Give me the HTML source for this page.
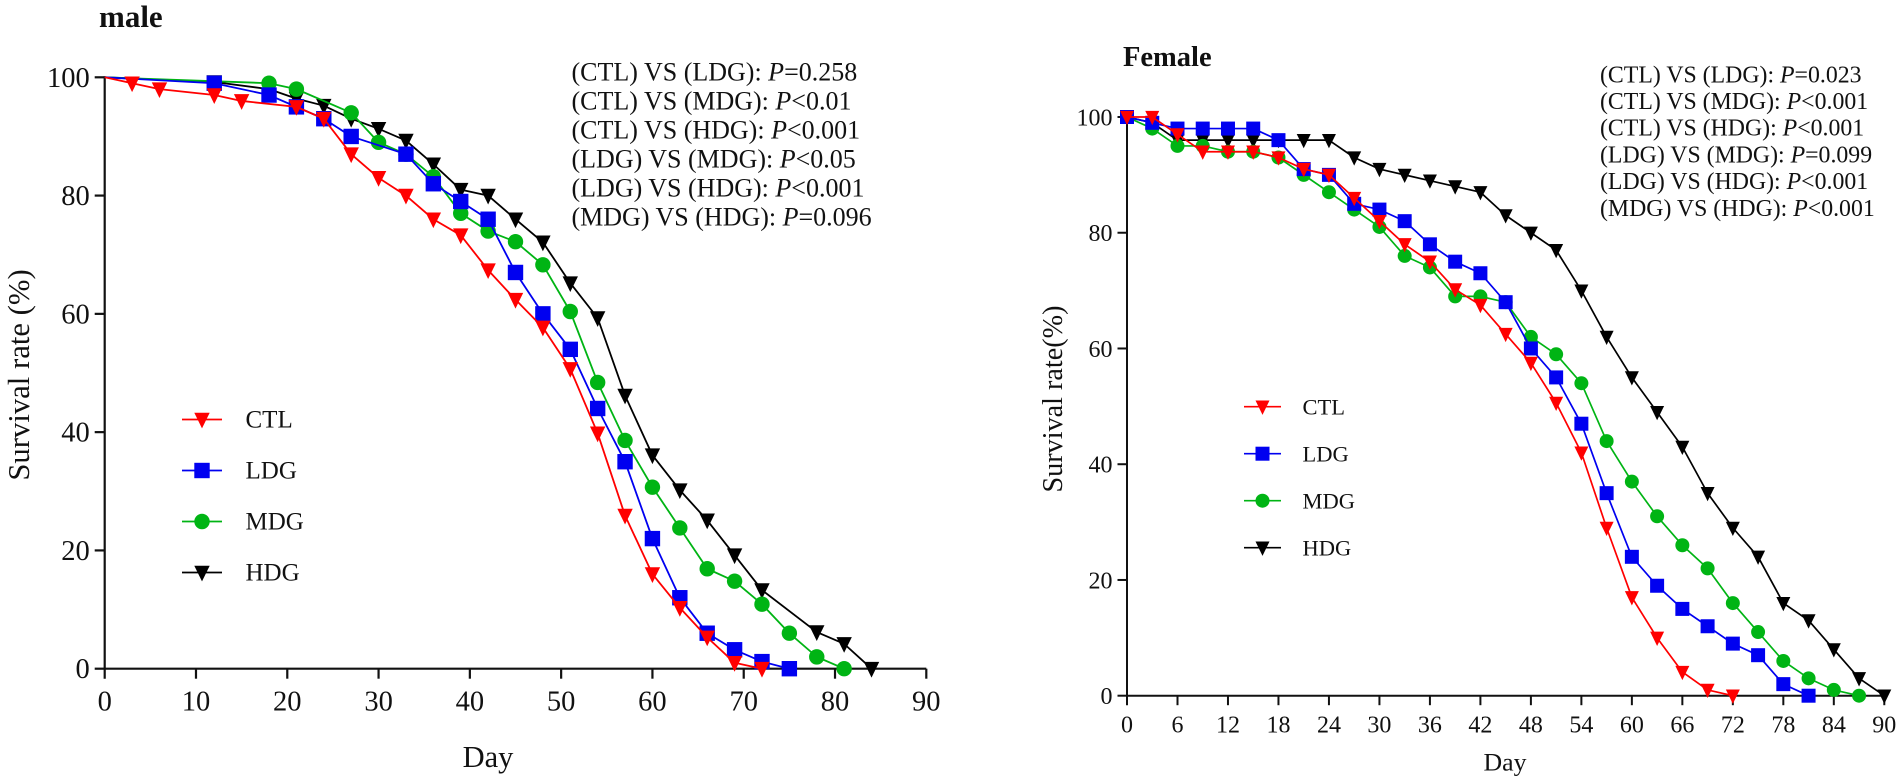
<!DOCTYPE html>
<html lang="en">
<head>
<meta charset="utf-8">
<title>Survival rate by day, male and female</title>
<style>
html,body{margin:0;padding:0;background:#fff;}
svg{display:block;font-family:"Liberation Serif",serif;fill:#111;}
</style>
</head>
<body>
<svg id="figure" xmlns="http://www.w3.org/2000/svg" width="1902" height="783" viewBox="0 0 1902 783">
  <rect width="1902" height="783" fill="#fff"/>

  <text x="99" y="27" font-size="31" font-weight="bold">male</text>
  <text transform="translate(29,375) rotate(-90)" text-anchor="middle" font-size="30.7">Survival rate (%)</text>
  <text x="488" y="767" text-anchor="middle" font-size="30.5">Day</text>
  <g font-size="26">
    <text x="571.5" y="80.5">(CTL) VS (LDG): <tspan font-style="italic">P</tspan>=0.258</text>
    <text x="571.5" y="109.5">(CTL) VS (MDG): <tspan font-style="italic">P</tspan>&lt;0.01</text>
    <text x="571.5" y="138.5">(CTL) VS (HDG): <tspan font-style="italic">P</tspan>&lt;0.001</text>
    <text x="571.5" y="167.5">(LDG) VS (MDG): <tspan font-style="italic">P</tspan>&lt;0.05</text>
    <text x="571.5" y="196.5">(LDG) VS (HDG): <tspan font-style="italic">P</tspan>&lt;0.001</text>
    <text x="571.5" y="225.5">(MDG) VS (HDG): <tspan font-style="italic">P</tspan>=0.096</text>
  </g>

  <text x="1123" y="66" font-size="28.5" font-weight="bold">Female</text>
  <text transform="translate(1062,399) rotate(-90)" text-anchor="middle" font-size="28.2">Survival rate(%)</text>
  <text x="1505" y="770.5" text-anchor="middle" font-size="25.8">Day</text>
  <g font-size="23.8">
    <text x="1600" y="82.3">(CTL) VS (LDG): <tspan font-style="italic">P</tspan>=0.023</text>
    <text x="1600" y="109">(CTL) VS (MDG): <tspan font-style="italic">P</tspan>&lt;0.001</text>
    <text x="1600" y="135.7">(CTL) VS (HDG): <tspan font-style="italic">P</tspan>&lt;0.001</text>
    <text x="1600" y="162.4">(LDG) VS (MDG): <tspan font-style="italic">P</tspan>=0.099</text>
    <text x="1600" y="189.1">(LDG) VS (HDG): <tspan font-style="italic">P</tspan>&lt;0.001</text>
    <text x="1600" y="215.8">(MDG) VS (HDG): <tspan font-style="italic">P</tspan>&lt;0.001</text>
  </g>
</svg>

<script>
// ---------- chart data ----------
const groupNames = ['CTL', 'LDG', 'MDG', 'HDG'];

const maleXTicks = [0, 10, 20, 30, 40, 50, 60, 70, 80, 90];
const maleYTicks = [0, 20, 40, 60, 80, 100];
const femaleXTicks = [0, 6, 12, 18, 24, 30, 36, 42, 48, 54, 60, 66, 72, 78, 84, 90];
const femaleYTicks = [0, 20, 40, 60, 80, 100];

const maleCtlDays = [0, 3, 6, 12, 15, 21, 24, 27, 30, 33, 36, 39, 42, 45, 48, 51, 54, 57, 60, 63, 66, 69, 72];
const maleCtlValues = [100, 99, 98, 97, 96, 95, 93, 87, 83, 80, 76, 73.3, 67.4, 62.4, 57.7, 50.7, 39.8, 25.9, 16, 10.3, 5.3, 1, 0];
const maleLdgDays = [0, 12, 18, 21, 24, 27, 33, 36, 39, 42, 45, 48, 51, 54, 57, 60, 63, 66, 69, 72, 75];
const maleLdgValues = [100, 99, 97, 95, 93, 90, 87, 82, 79, 76, 67, 60, 54, 44, 35, 22, 12, 6, 3.2, 1.2, 0];
const maleMdgDays = [0, 18, 21, 27, 30, 33, 36, 39, 42, 45, 48, 51, 54, 57, 60, 63, 66, 69, 72, 75, 78, 81];
const maleMdgValues = [100, 99, 98, 94, 89, 87, 83.2, 77, 74, 72.2, 68.3, 60.4, 48.4, 38.6, 30.7, 23.8, 16.9, 14.8, 10.9, 6, 2, 0];
const maleHdgDays = [0, 12, 18, 21, 24, 27, 30, 33, 36, 39, 42, 45, 48, 51, 54, 57, 60, 63, 66, 69, 72, 78, 81, 84];
const maleHdgValues = [100, 99.2, 98, 96.4, 95.2, 93, 91.3, 89.3, 85.3, 81, 80, 76, 72.1, 65.2, 59.3, 46.2, 36.1, 30.2, 25.1, 19.2, 13.3, 6.2, 4.2, 0];

const femaleCtlDays = [0, 3, 6, 9, 12, 15, 18, 21, 24, 27, 30, 33, 36, 39, 42, 45, 48, 51, 54, 57, 60, 63, 66, 69, 72];
const femaleCtlValues = [100, 100, 97, 94, 94, 94, 93, 91, 90, 86, 82, 78, 75, 70.2, 67.5, 62.5, 57.5, 50.6, 42, 29, 17, 10, 4.1, 1, 0];
const femaleLdgDays = [0, 3, 6, 9, 12, 15, 18, 21, 24, 27, 30, 33, 36, 39, 42, 45, 48, 51, 54, 57, 60, 63, 66, 69, 72, 75, 78, 81];
const femaleLdgValues = [100, 99, 98, 98, 98, 98, 96, 91, 90, 85, 84, 82, 78, 75, 73, 68, 60, 55, 47, 35, 24, 19, 15, 12, 9, 7, 2, 0];
const femaleMdgDays = [0, 3, 6, 9, 12, 15, 18, 21, 24, 27, 30, 33, 36, 39, 42, 45, 48, 51, 54, 57, 60, 63, 66, 69, 72, 75, 78, 81, 84, 87];
const femaleMdgValues = [100, 98, 95, 95, 94, 94, 93, 90, 87, 84, 81, 76, 74, 69, 69, 68, 62, 59, 54, 44, 37, 31, 26, 22, 16, 11, 6, 3, 1, 0];
const femaleHdgDays = [0, 3, 6, 9, 12, 15, 18, 21, 24, 27, 30, 33, 36, 39, 42, 45, 48, 51, 54, 57, 60, 63, 66, 69, 72, 75, 78, 81, 84, 87, 90];
const femaleHdgValues = [100, 99, 96, 96, 96, 96, 96, 96, 96, 93, 91, 90, 89, 88, 87, 83, 80, 77, 70, 62, 55, 49, 43, 35, 29, 24, 16, 13, 8, 3, 0];

// ---------- drawing ----------
const SVGNS = 'http://www.w3.org/2000/svg';
const svgRoot = document.getElementById('figure');
const colors = { CTL: '#ff0000', LDG: '#0000f0', MDG: '#00b414', HDG: '#000000' };

function make(parent, tag, attrs) {
  const el = document.createElementNS(SVGNS, tag);
  for (const key in attrs) el.setAttribute(key, attrs[key]);
  parent.appendChild(el);
  return el;
}

function drawMarker(parent, group, cx, cy, size) {
  const c = colors[group];
  const half = size / 2;
  let mark;
  if (group === 'LDG') {
    mark = make(parent, 'rect', { x: cx - half, y: cy - half, width: size, height: size, fill: c });
  } else if (group === 'MDG') {
    mark = make(parent, 'circle', { cx: cx, cy: cy, r: half, fill: c });
  } else {
    const top = cy - size * 0.44;
    const bottom = cy + size * 0.58;
    mark = make(parent, 'polygon', { points: (cx - half) + ',' + top + ' ' + (cx + half) + ',' + top + ' ' + cx + ',' + bottom, fill: c });
  }
  
  
}

function drawPanel(p) {
  const sx = d => p.x0 + (d - 0) * (p.x90 - p.x0) / 90;
  const sy = v => p.y0 + (v - 0) * (p.y100 - p.y0) / 100;

  const axes = make(svgRoot, 'g', {});
  
  

  const xLine = make(axes, 'line', { x1: sx(0), x2: sx(90), y1: sy(0), y2: sy(0), stroke: '#111', 'stroke-width': p.axisWidth });
  
  

  const yLine = make(axes, 'line', { x1: sx(0), x2: sx(0), y1: sy(0) + p.tick, y2: sy(100) - p.axisWidth / 2, stroke: '#111', 'stroke-width': p.axisWidth });
  
  

  p.xTicks.forEach(t => {
    if (t !== 0) {
      const tickMark = make(axes, 'line', { x1: sx(t), x2: sx(t), y1: sy(0), y2: sy(0) + p.tick, stroke: '#111', 'stroke-width': p.axisWidth });
      
      
    }
    const label = make(axes, 'text', { x: sx(t), y: p.xLabelY, 'text-anchor': 'middle', 'font-size': p.tickFont });
    label.textContent = String(t);
    
    
  });

  p.yTicks.forEach(t => {
    const tickMark = make(axes, 'line', { x1: sx(0) - p.tick, x2: sx(0), y1: sy(t), y2: sy(t), stroke: '#111', 'stroke-width': p.axisWidth });
    
    
    const label = make(axes, 'text', { x: sx(0) - p.tick - p.yLabelGap, y: sy(t) + p.yLabelDrop, 'text-anchor': 'end', 'font-size': p.tickFont });
    label.textContent = String(t);
    
    
  });

  // HDG is painted first and CTL last, as in the reference.
  ['HDG', 'MDG', 'LDG', 'CTL'].forEach(group => {
    const days = p.series[group][0];
    const values = p.series[group][1];
    const g = make(svgRoot, 'g', {});
    
    
    const pts = days.map((d, i) => sx(d) + ',' + sy(values[i])).join(' ');
    const line = make(g, 'polyline', { points: pts, fill: 'none', stroke: colors[group], 'stroke-width': p.lineWidth, 'stroke-linejoin': 'round' });
    
    
    days.forEach((d, i) => {
      if (d === 0 && !p.originMarkers) return;
      drawMarker(g, group, sx(d), sy(values[i]), p.marker);
    });
  });

  const legend = make(svgRoot, 'g', {});
  
  
  groupNames.forEach((group, i) => {
    const ly = p.legendY + i * p.legendStep;
    const entry = make(legend, 'g', {});
    
    
    make(entry, 'line', { x1: p.legendX1, x2: p.legendX2, y1: ly, y2: ly, stroke: colors[group], 'stroke-width': p.lineWidth });
    drawMarker(entry, group, (p.legendX1 + p.legendX2) / 2, ly, p.marker);
    const label = make(entry, 'text', { x: p.legendTextX, y: ly + p.legendDrop, 'font-size': p.legendFont });
    label.textContent = group;
    
    
  });
}

drawPanel({
  name: 'male', x0: 104.7, x90: 926.3, y0: 668.7, y100: 77.3,
  axisWidth: 2.2, lineWidth: 1.8, tick: 10, marker: 15.4, originMarkers: false,
  tickFont: 28.5, xLabelY: 710.5, yLabelGap: 5, yLabelDrop: 9.5,
  xTicks: maleXTicks, yTicks: maleYTicks,
  legendX1: 182, legendX2: 222, legendY: 419.5, legendStep: 51,
  legendTextX: 245.5, legendDrop: 8, legendFont: 25,
  series: {
    CTL: [maleCtlDays, maleCtlValues],
    LDG: [maleLdgDays, maleLdgValues],
    MDG: [maleMdgDays, maleMdgValues],
    HDG: [maleHdgDays, maleHdgValues]
  }
});

drawPanel({
  name: 'female', x0: 1127, x90: 1884.3, y0: 695.7, y100: 117,
  axisWidth: 2, lineWidth: 1.7, tick: 9.5, marker: 14, originMarkers: true,
  tickFont: 24, xLabelY: 732.5, yLabelGap: 5, yLabelDrop: 8.5,
  xTicks: femaleXTicks, yTicks: femaleYTicks,
  legendX1: 1244, legendX2: 1281, legendY: 406.7, legendStep: 47,
  legendTextX: 1302.5, legendDrop: 7.7, legendFont: 22.5,
  series: {
    CTL: [femaleCtlDays, femaleCtlValues],
    LDG: [femaleLdgDays, femaleLdgValues],
    MDG: [femaleMdgDays, femaleMdgValues],
    HDG: [femaleHdgDays, femaleHdgValues]
  }
});
</script>
</body>
</html>
